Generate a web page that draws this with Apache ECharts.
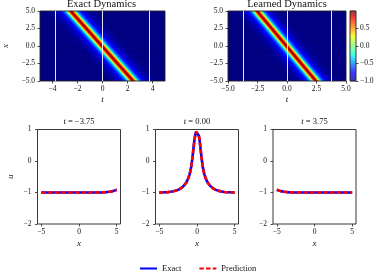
<!DOCTYPE html>
<html><head><meta charset="utf-8">
<script src="https://cdn.jsdelivr.net/npm/echarts@6/dist/echarts.min.js"></script>
<style>html,body{margin:0;padding:0;background:#fff}#c{width:381px;height:273px}</style>
</head><body><div id="c"></div>
<script>
// ---------- data ----------
const xStep = 0.125;
const xGrid = [];                       // sampling of x in [-5, 5]
for (let i = 0; i <= 80; i++) xGrid.push(-5 + i * xStep);
// u(x) at t = 0
const uMid = [-0.998,-0.998,-0.997,-0.996,-0.995,-0.994,-0.993,-0.992,-0.990,-0.988,-0.985,-0.982,-0.978,-0.974,-0.969,-0.963,-0.956,-0.948,-0.939,-0.928,-0.916,-0.902,-0.886,-0.867,-0.845,-0.820,-0.790,-0.755,-0.715,-0.665,-0.605,-0.530,-0.440,-0.320,-0.160,0.060,0.330,0.600,0.800,0.925,
  0.970,
  0.925,0.800,0.600,0.330,0.060,-0.160,-0.320,-0.440,-0.530,-0.605,-0.665,-0.715,-0.755,-0.790,-0.820,-0.845,-0.867,-0.886,-0.902,-0.916,-0.928,-0.939,-0.948,-0.956,-0.963,-0.969,-0.974,-0.978,-0.982,-0.985,-0.988,-0.990,-0.992,-0.993,-0.994,-0.995,-0.996,-0.997,-0.998,-0.998];
const predMid = uMid.slice();
const xCoarse = [-5,-4.75,-4.5,-4.25,-4,-3.75,-3.5,-3.25,-3,-2.75,-2.5,-2.25,-2,-1.75,-1.5,-1.25,-1,-0.75,-0.5,-0.25,0,0.25,0.5,0.75,1,1.25,1.5,1.75,2,2.25,2.5,2.75,3,3.25,3.5,3.75,4,4.25,4.5,4.75,5];
// u(x) at t = -3.75 and t = 3.75
const uLeft = [-1,-1,-1,-1,-1,-1,-1,-1,-1,-1,-1,-1,-1,-1,-1,-1,-1,-1,-1,-1,-1,-1,-1,-1,-1,-1,-1,-1,-1,-1,-0.998,-0.997,-0.995,-0.993,-0.990,-0.985,-0.978,-0.969,-0.956,-0.939,-0.916];
const uRight = [-0.916,-0.939,-0.956,-0.969,-0.978,-0.985,-0.990,-0.993,-0.995,-0.997,-0.998,-1,-1,-1,-1,-1,-1,-1,-1,-1,-1,-1,-1,-1,-1,-1,-1,-1,-1,-1,-1,-1,-1,-1,-1,-1,-1,-1,-1,-1,-1];
const predLeft = uLeft.slice(), predRight = uRight.slice();
const waveSpeed = -2;
const uBackground = -1;
const tStep = 0.0625;
const tGrid = [];
for (let i = 0; i <= 160; i++) tGrid.push(-5 + i * tStep);
const snapTimes = [-3.75, 0, 3.75];
const snapTitles = ['−3.75', '0.00', '3.75'];
const heatXTicksL = [-4, -2, 0, 2, 4];
const heatXTicksR = [-5, -2.5, 0, 2.5, 5];
const heatYTicks = [-5, -2.5, 0, 2.5, 5];
const cbTicks = [-1, -0.5, 0, 0.5];
const lineXTicks = [-5, 0, 5];
const lineYTicks = [-2, -1, 0, 1];

// heatmap table built from the read profile travelling with waveSpeed
const heatData = [];
for (const t of tGrid) for (const x of xGrid) {
  const off = x - waveSpeed * t;
  const idx = Math.round((off + 5) / xStep);
  heatData.push([t, x, (idx >= 0 && idx < uMid.length) ? uMid[idx] : uBackground]);
}
const cbLevels = [];
for (let i = 0; i <= 200; i++) cbLevels.push([0, -1 + i * 0.01]);

// ---------- styling helpers ----------
function jet(v) {
  const seg = (pts) => { for (let i = 1; i < pts.length; i++) { if (v <= pts[i][0]) { const a = pts[i-1], b = pts[i]; return a[1] + (b[1]-a[1]) * (v-a[0]) / (b[0]-a[0]); } } return pts[pts.length-1][1]; };
  const r = seg([[0,0],[0.35,0],[0.66,1],[0.89,1],[1,0.5]]);
  const g = seg([[0,0],[0.125,0],[0.375,1],[0.64,1],[0.91,0],[1,0]]);
  const b = seg([[0,0.5],[0.11,1],[0.34,1],[0.65,0],[1,0]]);
  const h = (c) => ('0' + Math.round(c * 255).toString(16)).slice(-2);
  return '#' + h(r) + h(g) + h(b);
}
const jetColors = []; for (let i = 0; i <= 64; i++) jetColors.push(jet(i / 64));
const FONT = 'Liberation Serif';
const TXT = '#111';
const fmt1 = (v) => v.toFixed(1).replace('-', '−');
const fmt0 = (v) => String(v).replace('-', '−');

const heatGrids = [
  { left: 38, top: 11, width: 127, height: 70 },
  { left: 228, top: 11, width: 118, height: 70 }
];
const cbGrid = { left: 350, top: 11, width: 6, height: 70 };
const lineGrids = [
  { left: 37.5, top: 129.5, width: 83, height: 94.5 },
  { left: 155.5, top: 129.5, width: 83, height: 94.5 },
  { left: 273, top: 129.5, width: 83, height: 94.5 }
];
const gridStyle = { show: true, borderColor: '#222', borderWidth: 0.9, backgroundColor: 'transparent', z: 5 };
const tickStyle = { show: true, inside: false, length: 2.5, lineStyle: { color: '#222', width: 0.8 } };
const noLine = { show: false, onZero: false };
const lblStyle = (fmt, vals, margin) => ({ fontFamily: FONT, fontSize: 7.5, color: TXT, margin: margin, formatter: fmt, customValues: vals });
const nameStyle = { fontFamily: FONT, fontSize: 9, fontStyle: 'italic', color: TXT };

const grid = [...heatGrids, cbGrid, ...lineGrids].map(g => Object.assign({}, gridStyle, g));
const xAxis = [], yAxis = [];
// heatmaps
[heatXTicksL, heatXTicksR].forEach((ticks, i) => {
  xAxis.push({ gridIndex: i, type: 'value', position: 'bottom', min: -5, max: 5, axisLine: noLine, splitLine: { show: false },
    axisTick: Object.assign({ customValues: ticks }, tickStyle),
    axisLabel: lblStyle(i === 0 ? fmt0 : fmt1, ticks, 4),
    name: 't', nameLocation: 'middle', nameGap: 14, nameTextStyle: nameStyle });
  yAxis.push({ gridIndex: i, type: 'value', position: 'left', min: -5, max: 5, axisLine: noLine, splitLine: { show: false },
    axisTick: Object.assign({ customValues: heatYTicks }, tickStyle),
    axisLabel: lblStyle(fmt1, heatYTicks, 5),
    name: i === 0 ? 'x' : '', nameLocation: 'middle', nameGap: 30, nameTextStyle: nameStyle });
});
// colorbar
xAxis.push({ gridIndex: 2, type: 'value', min: 0, max: 1, show: false });
yAxis.push({ gridIndex: 2, type: 'value', min: -1, max: 1, position: 'right', axisLine: noLine, splitLine: { show: false },
  axisTick: Object.assign({ customValues: cbTicks }, tickStyle), axisLabel: lblStyle(fmt1, cbTicks, 4) });
// line panels
lineGrids.forEach((g, i) => {
  const gi = 3 + i;
  xAxis.push({ gridIndex: gi, type: 'value', position: 'bottom', min: -5.5, max: 5.5, axisLine: noLine, splitLine: { show: false },
    axisTick: Object.assign({ customValues: lineXTicks }, tickStyle), axisLabel: lblStyle(fmt0, lineXTicks, 4),
    name: 'x', nameLocation: 'middle', nameGap: 15, nameTextStyle: nameStyle });
  yAxis.push({ gridIndex: gi, type: 'value', position: 'left', min: -2, max: 1, axisLine: noLine, splitLine: { show: false },
    axisTick: Object.assign({ customValues: lineYTicks }, tickStyle), axisLabel: lblStyle(fmt0, lineYTicks, 6),
    name: i === 0 ? 'u' : '', nameLocation: 'middle', nameGap: 22, nameTextStyle: nameStyle });
});

function renderCell(params, api) {
  const t = api.value(0), x = api.value(1);
  const t0 = Math.max(-5, t - tStep / 2), t1 = Math.min(5, t + tStep / 2);
  const x0 = Math.max(-5, x - xStep / 2), x1 = Math.min(5, x + xStep / 2);
  const a = api.coord([t0, x1]), b = api.coord([t1, x0]);
  return { type: 'rect', shape: { x: a[0], y: a[1], width: b[0] - a[0] + 0.6, height: b[1] - a[1] + 0.6 },
    style: { fill: api.visual('color') } };
}
function renderBar(params, api) {
  const v = api.value(1);
  const a = api.coord([0, v + 0.006]), b = api.coord([1, v - 0.006]);
  return { type: 'rect', shape: { x: a[0], y: a[1], width: b[0] - a[0], height: b[1] - a[1] }, style: { fill: api.visual('color') } };
}

const series = [];
[0, 1].forEach(i => series.push({
  type: 'custom', xAxisIndex: i, yAxisIndex: i, data: heatData, renderItem: renderCell, progressive: 0, clip: true, silent: true,
  encode: { x: 0, y: 1 },
  markLine: { silent: true, symbol: 'none', animation: false, label: { show: false },
    lineStyle: { color: '#ffffff', width: 1, type: 'solid', opacity: 0.9 },
    data: snapTimes.map(t => ({ xAxis: t })) }
}));
series.push({ type: 'custom', xAxisIndex: 2, yAxisIndex: 2, data: cbLevels, renderItem: renderBar, progressive: 0, silent: true, encode: { x: 0, y: 1 } });
const exactSets = [uLeft, uMid, uRight], predSets = [predLeft, predMid, predRight];
const xSets = [xCoarse, xGrid, xCoarse];
[0, 1, 2].forEach(i => {
  series.push({ type: 'line', name: 'Exact', xAxisIndex: 3 + i, yAxisIndex: 3 + i, showSymbol: false, symbol: 'none',
    data: xSets[i].map((x, k) => [x, exactSets[i][k]]), lineStyle: { color: '#0000ff', width: 2.6 }, itemStyle: { color: '#0000ff' }, z: 3 });
  series.push({ type: 'line', name: 'Prediction', xAxisIndex: 3 + i, yAxisIndex: 3 + i, showSymbol: false, symbol: 'none',
    data: xSets[i].map((x, k) => [x, predSets[i][k]]), lineStyle: { color: '#ff0000', width: 2.6, type: [4.5, 2.2] }, itemStyle: { color: '#ff0000' }, z: 4 });
});

const titleText = { fontFamily: FONT, fontSize: 10.5, fontWeight: 'normal', color: TXT };
const titles = [
  { text: 'Exact Dynamics', left: 101.5, top: -1.5, padding: 0, textAlign: 'center', textStyle: titleText },
  { text: 'Learned Dynamics', left: 287, top: -1.5, padding: 0, textAlign: 'center', textStyle: titleText }
];
lineGrids.forEach((g, i) => titles.push({
  text: '{i|t} = ' + snapTitles[i], left: g.left + g.width / 2, top: 117, padding: 0, textAlign: 'center',
  textStyle: { fontFamily: FONT, fontSize: 8.5, fontWeight: 'normal', color: TXT, rich: { i: { fontFamily: FONT, fontSize: 8.5, fontStyle: 'italic', color: TXT } } }
}));

const chart = echarts.init(document.getElementById('c'), null, { renderer: 'canvas' });
chart.setOption({
  animation: false,
  backgroundColor: '#fff',
  title: titles,
  grid, xAxis, yAxis, series,
  visualMap: [
    { type: 'continuous', show: false, min: -1, max: 1, dimension: 2, seriesIndex: [0, 1], inRange: { color: jetColors } },
    { type: 'continuous', show: false, min: -1, max: 1, dimension: 1, seriesIndex: [2], inRange: { color: jetColors } }
  ],
  legend: {
    data: ['Exact', 'Prediction'],
    left: 134, top: 259, itemWidth: 17, itemHeight: 8, itemGap: 17,
    itemStyle: { opacity: 0 },
    textStyle: { fontFamily: FONT, fontSize: 8.5, color: TXT }
  }
});
</script></body></html>
